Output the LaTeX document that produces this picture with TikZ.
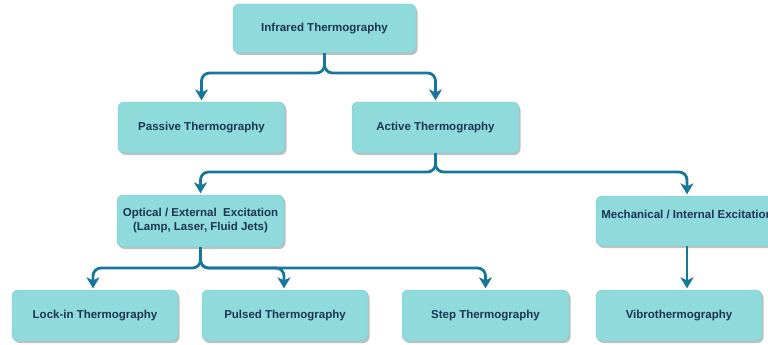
\documentclass[tikz,border=0pt]{standalone}
\usepackage{fontspec}
\setmainfont{Liberation Sans}
\usetikzlibrary{arrows.meta,shadows}
\definecolor{boxfill}{HTML}{8FDADB}
\definecolor{boxtext}{HTML}{1C3553}
\definecolor{conncol}{HTML}{17769A}
\tikzset{
  box/.style={rectangle, rounded corners=6pt, fill=boxfill, draw=boxfill!90!black, line width=0.3pt,
    text=boxtext, font=\fontsize{11.5}{14}\selectfont\bfseries, align=center, inner sep=0pt,
    drop shadow={shadow xshift=1.5pt, shadow yshift=-2pt, fill=black!45, opacity=0.55}},
  conn/.style={draw=conncol, line width=2.8pt, rounded corners=8pt,
    -{Stealth[length=11pt,width=13pt,inset=3pt]}, shorten >=1.5pt}
}
\begin{document}
\begin{tikzpicture}[x=1pt,y=-1pt]
\useasboundingbox (0,0) rectangle (768,345);
\clip (0,0) rectangle (768,345);
\node[box, minimum width=183pt, minimum height=49pt] (ir) at (324.5,28.5) {Infrared Thermography};
\node[box, minimum width=167pt, minimum height=51pt] (passive) at (201.5,127.5) {Passive Thermography};
\node[box, minimum width=167pt, minimum height=51pt] (active) at (435.5,127.5) {Active Thermography};
\node[box, minimum width=167pt, minimum height=52pt] (optical) at (200.5,221) {Optical / External~~Excitation\\(Lamp, Laser, Fluid Jets)};
\node[box, minimum width=182pt, minimum height=50pt] (mech) at (687,221) {Mechanical / Internal Excitation\\\phantom{X}};
\node[box, minimum width=166pt, minimum height=51pt] (lockin) at (95,315.5) {Lock-in Thermography};
\node[box, minimum width=166pt, minimum height=51pt] (pulsed) at (285,315.5) {Pulsed Thermography};
\node[box, minimum width=167pt, minimum height=51pt] (step) at (485.5,315.5) {Step Thermography};
\node[box, minimum width=166pt, minimum height=51pt] (vibro) at (679,315.5) {Vibrothermography};

\coordinate (j1) at (324.5,73);
\coordinate (j2) at (435.5,172);
\coordinate (j3) at (200.5,268);

\draw[conn] (ir.south) -- (j1) -| (passive.north);
\draw[conn] (ir.south) -- (j1) -| (active.north);
\draw[conn] (active.south) -- (j2) -| (optical.north);
\draw[conn] (active.south) -- (j2) -| (mech.north);
\draw[conn] (optical.south) -- (j3) -| ([xshift=-2pt]lockin.north);
\draw[conn] (optical.south) -- (j3) -| ([xshift=-1pt]pulsed.north);
\draw[conn] (optical.south) -- (j3) -| (step.north);
\draw[conn] (mech.south) -- (mech.south |- vibro.north);
\end{tikzpicture}
\end{document}
